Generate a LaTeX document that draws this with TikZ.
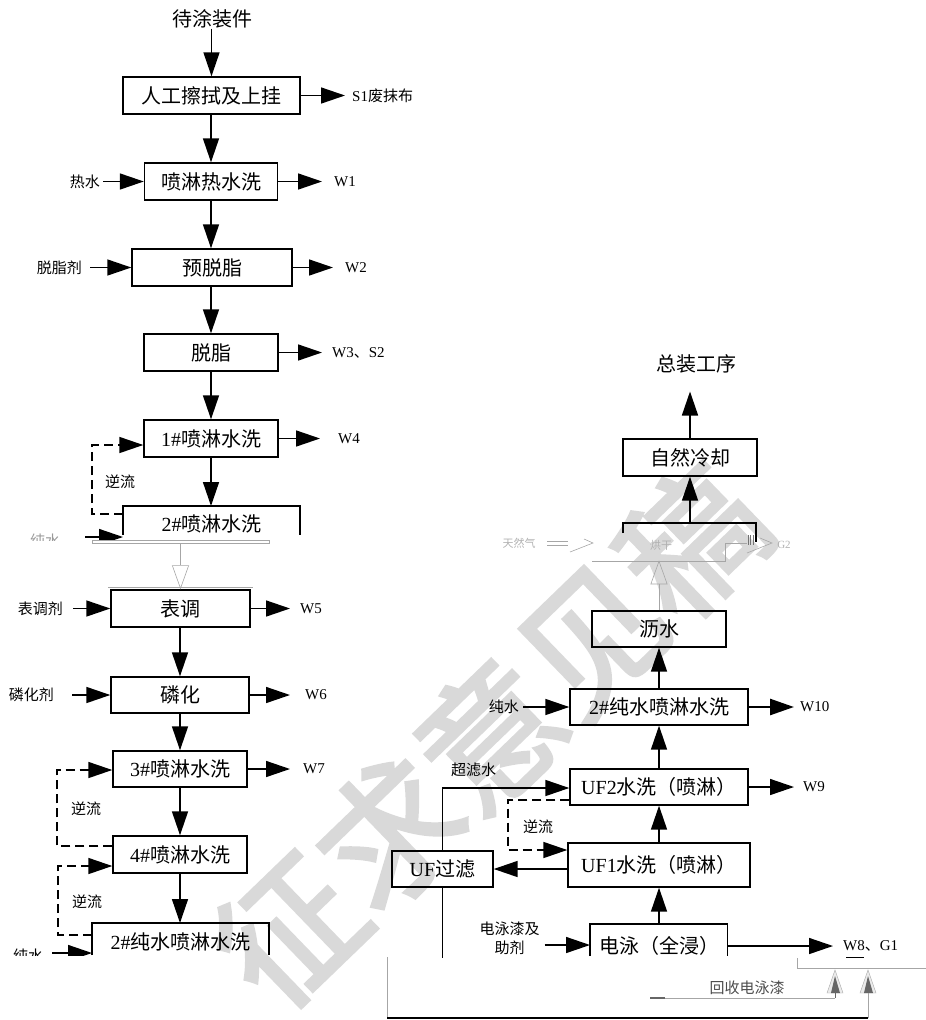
\documentclass[tikz,border=0pt]{standalone}
\usepackage{fontspec}
\setmainfont{Liberation Serif}
\newfontfamily\cjk{Noto Sans CJK SC}
\newfontfamily\wmfont[FakeBold=2.5]{Noto Sans CJK SC}
\usetikzlibrary{arrows.meta,calc}
\begin{document}
\begin{tikzpicture}[x=1pt,y=-1pt,
  box/.style={draw,line width=1.4pt,inner sep=0pt,font=\cjk\fontsize{20}{22}\selectfont},
  btxt/.style={inner sep=0pt,font=\cjk\fontsize{20}{22}\selectfont},
  lbl/.style={inner sep=0pt,anchor=west,font=\cjk\fontsize{15}{19}\selectfont},
  lblr/.style={lbl,anchor=east},
  wl/.style={inner sep=0pt,anchor=west,font=\rmfamily\fontsize{15}{18}\selectfont},
  arr/.style={line width=1.5pt,-{Triangle[length=24pt,width=16pt]}},
  dsh/.style={line width=1.5pt,dash pattern=on 9pt off 5pt,-{Triangle[length=24pt,width=16pt]}},
  obox/.style={line width=1.4pt},
  faint/.style={draw=black!35,line width=0.6pt},
  hol/.style={faint,-{Triangle[open,length=24pt,width=17pt]}},
  ftxt/.style={inner sep=0pt,text=black!30,font=\cjk\fontsize{11}{13}\selectfont},
]
\useasboundingbox (0,0) rectangle (926,1020);

% watermark
\node[rotate=44,inner sep=0pt,text=black!15,font=\wmfont\fontsize{140}{140}\selectfont] (wm) at (490,735) {征求意见稿};

% ---------------- left column ----------------
\node[btxt] (start) at (212,19) {待涂装件};
\node[box,minimum width=177pt,minimum height=37pt] (b1) at (211.5,95.5) {人工擦拭及上挂};
\draw[arr] (b1.north |- start.south) -- (b1.north);
\node[lbl] (s1) at (352,95.5) {{\rmfamily S1}废抹布};
\draw[arr] (b1.east) -- ([xshift=-7pt]s1.west);

\node[box,minimum width=133pt,minimum height=37pt] (b2) at (211,181.5) {喷淋热水洗};
\draw[arr] (b2.north |- b1.south) -- (b2.north);
\node[lblr] (hw) at (100,181.5) {热水};
\draw[arr] ([xshift=3pt]hw.east) -- (b2.west);
\node[wl] (w1) at (334,181.5) {W1};
\draw[arr] (b2.east) -- ([xshift=-12pt]w1.west);

\node[box,minimum width=160pt,minimum height=37pt] (b3) at (212,267.5) {预脱脂};
\draw[arr] (b2.south) -- (b2.south |- b3.north);
\node[lblr] (tz) at (82,267.5) {脱脂剂};
\draw[arr] ([xshift=8pt]tz.east) -- (b3.west);
\node[wl] (w2) at (345,267.5) {W2};
\draw[arr] (b3.east) -- ([xshift=-12pt]w2.west);

\node[box,minimum width=134pt,minimum height=37pt] (b4) at (211,352.5) {脱脂};
\draw[arr] (b4.north |- b3.south) -- (b4.north);
\node[wl] (w3) at (332,352.5) {W3{\cjk 、}S2};
\draw[arr] (b4.east) -- ([xshift=-10pt]w3.west);

\node[box,minimum width=134pt,minimum height=37pt] (b5) at (211,438.5) {{\rmfamily 1\#}喷淋水洗};
\draw[arr] (b4.south) -- (b5.north);
\node[wl] (w4) at (338,438.5) {W4};
\draw[arr] (b5.east) -- ([xshift=-18pt]w4.west);

\coordinate (b6nw) at (123,506);
\coordinate (b6ne) at (300,506);
\draw[obox] ($(b6nw)+(0,29)$) -- (b6nw) -- (b6ne) -- ($(b6ne)+(0,29)$);
\node[btxt] (b6) at (211.5,524) {{\rmfamily 2\#}喷淋水洗};
\draw[arr] (b5.south) -- (b5.south |- b6nw);
\draw[dsh] ($(b6nw)+(0,8)$) -| (92,445) -- ($(b5.west)+(0,6.5)$);
\node[lbl] (nl1) at (105,482) {逆流};

\begin{scope}
  \clip (0,0) rectangle (926,540);
  \node[lbl,text=black!40] (pw1) at (30,541) {纯水};
  \draw[arr] (85,537) -- ($(b6nw)+(0,31)$);
\end{scope}

\draw[faint] (92,540.5) rectangle (269,543.5);
\node[box,minimum width=139pt,minimum height=37pt] (b7) at (180.5,608.5) {表调};
\draw[faint] ([shift={(-2,-2.5)}]b7.north west) -- ([shift={(2,-2.5)}]b7.north east);
\draw[hol] (b7.north |- 0,543.5) -- (b7.north);
\node[lblr] (tt) at (63,608.5) {表调剂};
\draw[arr] ([xshift=10pt]tt.east) -- (b7.west);
\node[wl] (w5) at (300,608.5) {W5};
\draw[arr] (b7.east) -- ([xshift=-10pt]w5.west);

\node[box,minimum width=138pt,minimum height=36pt] (b8) at (180,695) {磷化};
\draw[arr] (b8.north |- b7.south) -- (b8.north);
\node[lblr] (lh) at (54,695) {磷化剂};
\draw[arr] ([xshift=18pt]lh.east) -- (b8.west);
\node[wl] (w6) at (305,695) {W6};
\draw[arr] (b8.east) -- ([xshift=-15pt]w6.west);

\node[box,minimum width=134pt,minimum height=36pt] (b9) at (180,769) {{\rmfamily 3\#}喷淋水洗};
\draw[arr] (b8.south) -- (b9.north);
\node[wl] (w7) at (303,769) {W7};
\draw[arr] (b9.east) -- ([xshift=-13pt]w7.west);

\node[box,minimum width=134pt,minimum height=37pt] (b10) at (180,854.5) {{\rmfamily 4\#}喷淋水洗};
\draw[arr] (b9.south) -- (b10.north);
\draw[dsh] ($(b10.west)+(0,-8.5)$) -| (57,770) -- ($(b9.west)+(0,1)$);
\node[lbl] (nl2) at (71,809) {逆流};

\coordinate (b11nw) at (92,923);
\coordinate (b11ne) at (269,923);
\draw[obox] ($(b11nw)+(0,32)$) -- (b11nw) -- (b11ne) -- ($(b11ne)+(0,32)$);
\node[btxt] (b11) at (180.5,942) {{\rmfamily 2\#}纯水喷淋水洗};
\draw[arr] (b10.south) -- (b10.south |- b11nw);
\draw[dsh] ($(b11nw)+(0,12)$) -| (58,866) -- ($(b10.west)+(0,11.5)$);
\node[lbl] (nl3) at (72,902) {逆流};
\begin{scope}
  \clip (0,0) rectangle (926,955);
  \node[lbl] (pw2) at (13,956) {纯水};
  \draw[arr] (52,953) -- ($(b11nw)+(0,30)$);
\end{scope}

% ---------------- right column ----------------
\node[btxt] (fin) at (696,364) {总装工序};
\node[box,minimum width=134pt,minimum height=37pt] (r1) at (690,457.5) {自然冷却};
\draw[arr] (r1.north) -- ($(fin.south -| r1.north)+(0,18)$);

\coordinate (r2nw) at (623,523);
\coordinate (r2ne) at (756,523);
\draw[obox] (623,533) -- (r2nw) -- (r2ne) -- (756,542);
\draw[arr] (r2nw -| r1.south) -- (r1.south);

% faint row
\node[ftxt] (ng) at (519,543) {天然气};
\draw[faint] (547,541.5) -- (568,541.5) (547,545) -- (568,545);
\draw[faint] (584,539) -- (593,543) -- (570,552);
\node[ftxt] (hg) at (661,545) {烘干};
\draw[faint] (592,561) -- (725,561) -- (725,543) -- (747,543);
\foreach \x in {748,750.5,753} \draw[black!55,line width=0.7pt] (\x,535) -- (\x,545);
\draw[faint] (760,538) -- (772,543) -- (747,553);
\node[ftxt,font=\rmfamily\fontsize{11}{13}\selectfont] (g2) at (784,545) {G2};

\node[box,minimum width=134pt,minimum height=36pt] (r3) at (659,629) {沥水};
\draw[hol] (r3.north) -- ($(r3.north)+(0,-50)$);

\node[box,minimum width=178pt,minimum height=36pt] (r4) at (659,707) {{\rmfamily 2\#}纯水喷淋水洗};
\draw[arr] (r4.north) -- (r3.south);
\node[lblr] (cs) at (519,707) {纯水};
\draw[arr] ([xshift=4pt]cs.east) -- (r4.west);
\node[wl] (w10) at (800,707) {W10};
\draw[line width=2.6pt,-{Triangle[length=24pt,width=16pt]}] (r4.east) -- ([xshift=-6pt]w10.west);

\node[box,minimum width=178pt,minimum height=36pt] (r5) at (659,787) {{\rmfamily UF2}水洗（喷淋）};
\draw[arr] (r5.north) -- (r4.south);
\node[wl] (w9) at (803,787) {W9};
\draw[arr] (r5.east) -- ([xshift=-9pt]w9.west);

\node[box,minimum width=182pt,minimum height=44pt] (r6) at (659,865) {{\rmfamily UF1}水洗（喷淋）};
\draw[arr] (r6.north) -- (r5.south);

\node[box,minimum width=101pt,minimum height=36pt] (uf) at (442.5,869) {{\rmfamily UF}过滤};
\draw[arr] (r6.west |- uf.east) -- (uf.east);
\draw[arr] (uf.north) |- ($(r5.west)+(0,1)$);
\node[lbl] (clw) at (451,770) {超滤水};
\draw[dsh] ($(r5.west)+(0,13)$) -| (508,850) -- ($(r6.west)+(0,-15)$);
\node[lbl] (nl4) at (523,827) {逆流};
\draw[line width=1.5pt] (uf.south) -- ($(uf.south)+(0,70)$);

\coordinate (r7nw) at (590,924);
\coordinate (r7ne) at (727.5,924);
\draw[obox] ($(r7nw)+(0,32)$) -- (r7nw) -- (r7ne) -- ($(r7ne)+(0,32)$);
\node[btxt] (r7) at (659,946) {电泳（全浸）};
\draw[arr] (r7nw -| r6.south) -- (r6.south);
\node[lbl,align=center,anchor=center] (ep) at (509.5,938) {电泳漆及\\助剂};
\draw[arr] ($(ep.east)+(5,7)$) -- ($(r7nw)+(0,21)$);
\node[wl] (w8) at (843,946) {W8{\cjk 、}G1};
\draw[arr] ($(r7ne)+(0,22)$) -- ([xshift=-10pt]w8.west);
\draw[line width=0.8pt] (846,957) -- (864,957);

% bottom fragment
\draw[faint] (797,958) -- (797,968) -- (926,968);
\draw[faint] (387,957) -- (387,1018);
\draw[line width=1.5pt] (387,1018) -- (868,1018);
\draw[faint] (868,1018) -- (868,993);
\draw[black!35,fill=black!8] (835,970) -- (843,993) -- (827,993) -- cycle;
\fill[black!60] (835,976) -- (840,993) -- (831,993) -- cycle;
\draw[black!35,fill=black!8] (868,970) -- (876,993) -- (860,993) -- cycle;
\fill[black!60] (868,976) -- (873,993) -- (864,993) -- cycle;
\draw[black!60,line width=1pt] (835,993) -- (835,998);
\draw[faint] (650,998) -- (835,998);
\draw[black!60,line width=1.2pt] (650,998) -- (665,998);
\node[inner sep=0pt,text=black!70,font=\cjk\fontsize{15}{18}\selectfont] (hs) at (747,988) {回收电泳漆};
\end{tikzpicture}
\end{document}
